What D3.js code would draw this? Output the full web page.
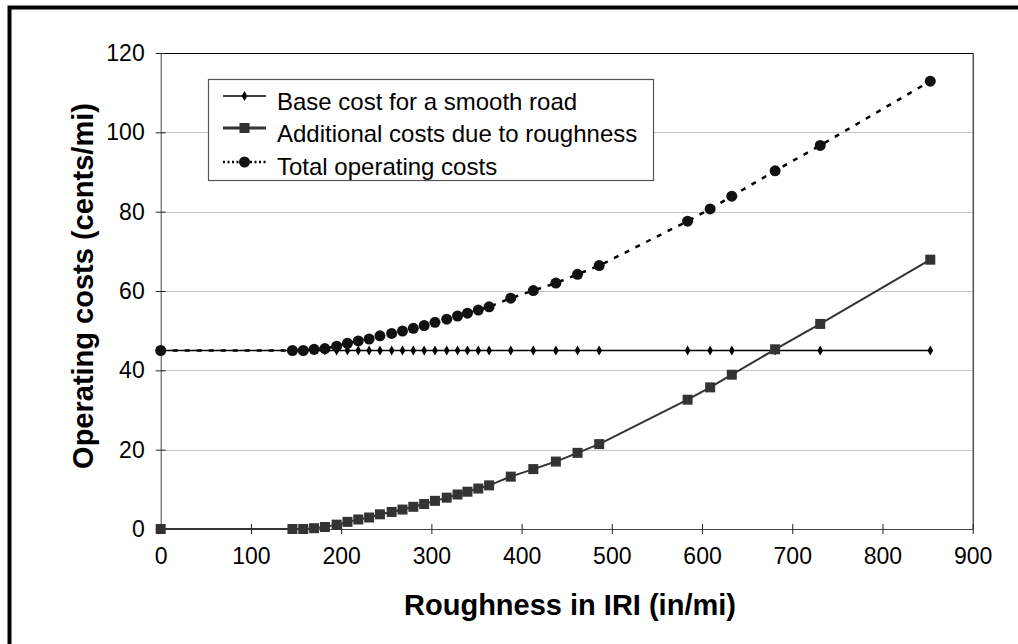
<!DOCTYPE html>
<html><head><meta charset="utf-8">
<script src="https://cdn.jsdelivr.net/npm/d3@7"></script>
<style>
html,body{margin:0;padding:0;background:#fff;}
svg{display:block;font-family:"Liberation Sans",Arial,sans-serif;}
</style></head>
<body>
<svg id="chart" width="1018" height="644"></svg>
<script>
// ---- data ----
const iri = [0, 146, 158, 170, 182, 195, 207, 219, 231, 243, 256, 268, 280, 292, 304, 317, 329, 340, 352, 364, 388, 413, 438, 462, 486, 584, 609, 633, 681, 731, 853];
const baseCost = [45,45,45,45,45,45,45,45,45,45,45,45,45,45,45,45,45,45,45,45,45,45,45,45,45,45,45,45,45,45,45];
const additionalCost = [0, 0, 0, 0.2, 0.5, 1.1, 1.8, 2.4, 2.9, 3.7, 4.3, 4.9, 5.6, 6.3, 7.1, 7.9, 8.7, 9.4, 10.2, 11.0, 13.2, 15.1, 17.0, 19.2, 21.4, 32.6, 35.7, 38.9, 45.3, 51.7, 67.9];
const totalCost = [45, 45, 45, 45.3, 45.5, 46.1, 46.8, 47.4, 47.9, 48.7, 49.3, 49.9, 50.6, 51.3, 52.1, 52.9, 53.7, 54.4, 55.2, 56.0, 58.2, 60.1, 62.0, 64.2, 66.4, 77.6, 80.7, 83.9, 90.3, 96.7, 112.9];
const seriesNames = ["Base cost for a smooth road", "Additional costs due to roughness", "Total operating costs"];
const xTicks = [0,100,200,300,400,500,600,700,800,900];
const yTicks = [0,20,40,60,80,100,120];
const xTitle = "Roughness in IRI (in/mi)";
const yTitle = "Operating costs (cents/mi)";

const svg = d3.select("#chart");
const L = 160.7, R = 972.7, T = 53, B = 529;
const x = d3.scaleLinear().domain([0,900]).range([L,R]);
const y = d3.scaleLinear().domain([0,120]).range([B,T]);

// outer frame
svg.append("rect").attr("x",9.5).attr("y",7.5).attr("width",1100).attr("height",1000)
  .attr("fill","none").attr("stroke","#000").attr("stroke-width",4);

// gridlines
svg.append("g").selectAll("line").data(yTicks.filter(d=>d>0 && d<120)).join("line")
  .attr("x1",L).attr("x2",R).attr("y1",d=>Math.round(y(d))+0.5).attr("y2",d=>Math.round(y(d))+0.5)
  .attr("stroke","#c6c6c6").attr("stroke-width",1);

// top/right plot border
svg.append("path").attr("d",`M${L},${T+0.5}H${R+0.5}V${B}`).attr("fill","none").attr("stroke","#000").attr("stroke-width",1);

// axes
const xAxis = d3.axisBottom(x).tickValues(xTicks).tickSizeInner(5).tickSizeOuter(0).tickPadding(14);
const gx = svg.append("g").attr("transform",`translate(0,${B})`).call(xAxis);
gx.select(".domain").attr("stroke","#444");
gx.selectAll(".tick line").attr("y1",-5).attr("stroke","#222");
gx.selectAll(".tick text").attr("font-size",23).attr("fill","#000").attr("font-family","Liberation Sans, Arial, sans-serif");

const yAxis = d3.axisLeft(y).tickValues(yTicks).tickSizeInner(5).tickSizeOuter(0).tickPadding(11);
const gy = svg.append("g").attr("transform",`translate(${L},0)`).call(yAxis);
gy.select(".domain").attr("stroke","#444");
gy.selectAll(".tick line").attr("x1",5).attr("stroke","#222");
gy.selectAll(".tick text").attr("font-size",23).attr("fill","#000").attr("font-family","Liberation Sans, Arial, sans-serif");

// titles
svg.append("text").attr("x",570).attr("y",615).attr("text-anchor","middle")
  .attr("font-size",29).attr("font-weight","bold").text(xTitle);
svg.append("text").attr("transform",`translate(93,286) rotate(-90)`).attr("text-anchor","middle")
  .attr("font-size",29).attr("font-weight","bold").text(yTitle);

const idx = d3.range(iri.length);
const lineGen = arr => d3.line().x(i=>x(iri[i])).y(i=>y(arr[i]))(idx);
const diamond = d3.symbol().type(d3.symbolDiamond).size(28);

// base series
svg.append("path").attr("d",lineGen(baseCost)).attr("fill","none").attr("stroke","#000").attr("stroke-width",1.5);
svg.append("g").selectAll("path").data(idx).join("path")
  .attr("transform",i=>`translate(${x(iri[i])},${y(baseCost[i])})`).attr("d",diamond).attr("fill","#000");

// additional series
svg.append("path").attr("d",lineGen(additionalCost)).attr("fill","none").attr("stroke","#333").attr("stroke-width",2);
svg.append("g").selectAll("rect").data(idx).join("rect")
  .attr("x",i=>x(iri[i])-5).attr("y",i=>y(additionalCost[i])-5).attr("width",10).attr("height",10).attr("fill","#333");

// total series
svg.append("path").attr("d",lineGen(totalCost)).attr("fill","none").attr("stroke","#000").attr("stroke-width",2.5).attr("stroke-dasharray","5,7");
svg.append("g").selectAll("circle").data(idx).join("circle")
  .attr("cx",i=>x(iri[i])).attr("cy",i=>y(totalCost[i])).attr("r",5.5).attr("fill","#111");

// legend
const lg = svg.append("g");
lg.append("rect").attr("x",208.5).attr("y",79.5).attr("width",445).attr("height",101)
  .attr("fill","#fff").attr("stroke","#555").attr("stroke-width",1.2);
const rowsY = [96, 128, 162];
const textY = [110, 142, 175];
const sx1 = 223, sx2 = 266, sc = 244.5;
// row 1
lg.append("line").attr("x1",sx1).attr("x2",sx2).attr("y1",rowsY[0]).attr("y2",rowsY[0]).attr("stroke","#000").attr("stroke-width",1.5);
lg.append("path").attr("transform",`translate(${sc},${rowsY[0]})`).attr("d",diamond).attr("fill","#000");
// row 2
lg.append("line").attr("x1",sx1).attr("x2",sx2).attr("y1",rowsY[1]).attr("y2",rowsY[1]).attr("stroke","#333").attr("stroke-width",3);
lg.append("rect").attr("x",sc-5).attr("y",rowsY[1]-5).attr("width",10).attr("height",10).attr("fill","#333");
// row 3
lg.append("line").attr("x1",sx1).attr("x2",sx2).attr("y1",rowsY[2]).attr("y2",rowsY[2]).attr("stroke","#000").attr("stroke-width",2.5).attr("stroke-dasharray","2,2.5");
lg.append("circle").attr("cx",sc).attr("cy",rowsY[2]).attr("r",5.5).attr("fill","#111");
lg.selectAll("text.lbl").data(seriesNames).join("text").attr("class","lbl")
  .attr("x",277).attr("y",(d,i)=>textY[i]).attr("font-size",24).attr("fill","#000").text(d=>d);
</script>
</body></html>
